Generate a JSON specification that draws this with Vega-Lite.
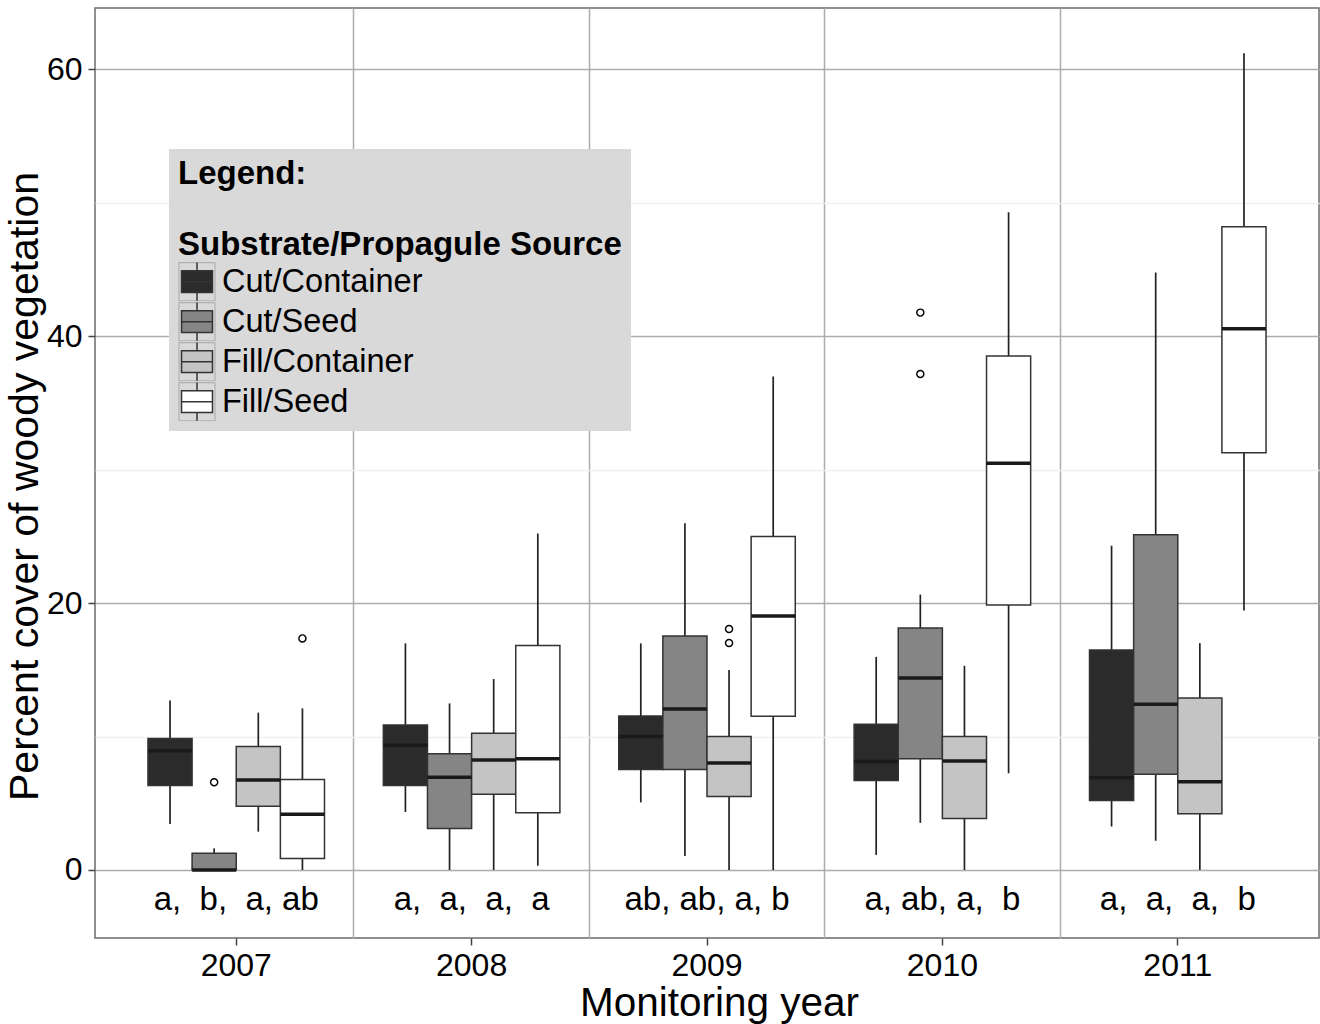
{
  "$schema": "https://vega.github.io/schema/vega-lite/v6.json",
  "autosize": "none",
  "width": 1224,
  "height": 930,
  "padding": {"left": 95, "top": 8, "right": 1, "bottom": 86},
  "background": "white",
  "config": {
    "font": "Liberation Sans",
    "view": {"stroke": "#6b6b6b", "strokeWidth": 1.5},
    "axis": {"zindex": 0}
  },
  "datasets": {
    "boxes": [
      {"year": "2007", "group": "Cut/Container", "lo": 3.45, "q1": 6.32, "med": 8.94, "q3": 9.86, "hi": 12.7},
      {"year": "2007", "group": "Cut/Seed", "lo": 0, "q1": 0, "med": 0, "q3": 1.25, "hi": 1.62},
      {"year": "2007", "group": "Fill/Container", "lo": 2.87, "q1": 4.77, "med": 6.74, "q3": 9.26, "hi": 11.79},
      {"year": "2007", "group": "Fill/Seed", "lo": 0, "q1": 0.85, "med": 4.17, "q3": 6.77, "hi": 12.11},
      {"year": "2008", "group": "Cut/Container", "lo": 4.34, "q1": 6.32, "med": 9.34, "q3": 10.86, "hi": 16.98},
      {"year": "2008", "group": "Cut/Seed", "lo": 0, "q1": 3.1, "med": 6.94, "q3": 8.71, "hi": 12.48},
      {"year": "2008", "group": "Fill/Container", "lo": 0, "q1": 5.67, "med": 8.24, "q3": 10.24, "hi": 14.31},
      {"year": "2008", "group": "Fill/Seed", "lo": 0.32, "q1": 4.29, "med": 8.34, "q3": 16.83, "hi": 25.22},
      {"year": "2009", "group": "Cut/Container", "lo": 5.06, "q1": 7.52, "med": 10.01, "q3": 11.54, "hi": 16.98},
      {"year": "2009", "group": "Cut/Seed", "lo": 1.05, "q1": 7.52, "med": 12.06, "q3": 17.54, "hi": 25.98},
      {"year": "2009", "group": "Fill/Container", "lo": 0, "q1": 5.5, "med": 8.02, "q3": 10.01, "hi": 14.99},
      {"year": "2009", "group": "Fill/Seed", "lo": 0, "q1": 11.51, "med": 19.03, "q3": 25.0, "hi": 36.98},
      {"year": "2010", "group": "Cut/Container", "lo": 1.13, "q1": 6.71, "med": 8.13, "q3": 10.92, "hi": 15.97},
      {"year": "2010", "group": "Cut/Seed", "lo": 3.53, "q1": 8.34, "med": 14.38, "q3": 18.13, "hi": 20.64},
      {"year": "2010", "group": "Fill/Container", "lo": 0, "q1": 3.85, "med": 8.16, "q3": 10.0, "hi": 15.3},
      {"year": "2010", "group": "Fill/Seed", "lo": 7.24, "q1": 19.86, "med": 30.49, "q3": 38.52, "hi": 49.29},
      {"year": "2011", "group": "Cut/Container", "lo": 3.26, "q1": 5.2, "med": 6.91, "q3": 16.49, "hi": 24.3},
      {"year": "2011", "group": "Cut/Seed", "lo": 2.19, "q1": 7.17, "med": 12.41, "q3": 25.12, "hi": 44.78},
      {"year": "2011", "group": "Fill/Container", "lo": 0, "q1": 4.21, "med": 6.61, "q3": 12.88, "hi": 17.0},
      {"year": "2011", "group": "Fill/Seed", "lo": 19.45, "q1": 31.26, "med": 40.57, "q3": 48.2, "hi": 61.2}
    ],
    "outliers": [
      {"year": "2007", "group": "Cut/Seed", "value": 6.57},
      {"year": "2007", "group": "Fill/Seed", "value": 17.35},
      {"year": "2009", "group": "Fill/Container", "value": 18.06},
      {"year": "2009", "group": "Fill/Container", "value": 17.01},
      {"year": "2010", "group": "Cut/Seed", "value": 41.77},
      {"year": "2010", "group": "Cut/Seed", "value": 37.17}
    ],
    "letters": [
      {"year": "2007", "label": "a,\u00a0 b,\u00a0 a, ab", "pos": -3},
      {"year": "2008", "label": "a,\u00a0 a,\u00a0 a,\u00a0 a", "pos": -3},
      {"year": "2009", "label": "ab, ab, a, b", "pos": -3},
      {"year": "2010", "label": "a, ab, a,\u00a0 b", "pos": -3},
      {"year": "2011", "label": "a,\u00a0 a,\u00a0 a,\u00a0 b", "pos": -3}
    ]
  },
  "resolve": {"axis": {"x": "independent", "y": "independent"}},
  "layer": [
    {
      "data": {"name": "boxes"},
      "mark": {"type": "rule", "color": "#222222", "strokeWidth": 1.7},
      "encoding": {
        "x": {
          "field": "year", "type": "nominal", "sort": ["2007", "2008", "2009", "2010", "2011"],
          "scale": {"paddingInner": 0, "paddingOuter": 0.1},
          "axis": {
            "orient": "bottom", "title": "Monitoring year", "titleFontSize": 40.5, "titleFontWeight": "normal",
            "titleColor": "#000000", "titlePadding": 2, "titleX": 624, "labelFontSize": 32, "labelColor": "#000000",
            "labelAngle": 0, "labelPadding": 5, "tickSize": 7, "tickColor": "#444444", "tickWidth": 1.5,
            "grid": false, "domain": false
          }
        },
        "xOffset": {"field": "group", "type": "nominal", "sort": ["Cut/Container", "Cut/Seed", "Fill/Container", "Fill/Seed"],
          "scale": {"paddingInner": 0, "paddingOuter": 0.6667}},
        "y": {
          "field": "lo", "type": "quantitative",
          "scale": {"domain": [-5.1, 64.6], "nice": false, "zero": false},
          "axis": {
            "orient": "left", "title": "Percent cover of woody vegetation", "titleFontSize": 41,
            "titleFontWeight": "normal", "titleColor": "#000000", "titlePadding": 0, "titleY": 478,
            "values": [0, 20, 40, 60], "labelFontSize": 32, "labelColor": "#000000", "labelPadding": 6,
            "tickSize": 7, "tickColor": "#444444", "tickWidth": 1.5,
            "grid": true, "gridColor": "#adadad", "gridWidth": 1.5, "domain": false
          }
        },
        "y2": {"field": "hi"}
      }
    },
    {
      "data": {"name": "boxes"},
      "mark": {"type": "point", "size": 0, "opacity": 1},
      "encoding": {
        "x": {"field": "year", "type": "nominal", "sort": ["2007", "2008", "2009", "2010", "2011"], "axis": null},
        "xOffset": {"field": "group", "type": "nominal", "sort": ["Cut/Container", "Cut/Seed", "Fill/Container", "Fill/Seed"]},
        "y": {"field": "med", "type": "quantitative", "axis": null},
        "strokeDash": {
          "field": "group", "type": "nominal", "sort": ["Cut/Container", "Cut/Seed", "Fill/Container", "Fill/Seed"],
          "scale": {"range": [[1, 0], [1, 0], [1, 0], [1, 0]]},
          "legend": {
            "orient": "none", "legendX": 74, "legendY": 141, "zindex": 0,
            "title": ["Legend:", "\u200b", "Substrate/Propagule Source"],
            "titleFontSize": 33, "titleFontWeight": "bold", "titleColor": "#000000", "titleLineHeight": 35.5,
            "titlePadding": 0, "titleLimit": 700, "fillColor": "#d9d9d9", "padding": 9,
            "labelFontSize": 32.5, "labelExpr": "''", "labelOffset": 6, "labelLimit": 500,
            "symbolType": "M-1,-1.06H1V1.06H-1Z", "symbolSize": 1296, "symbolStrokeColor": "#b0b0b0", "symbolFillColor": "#ffffff",
            "symbolStrokeWidth": 1.2, "symbolOpacity": 1, "symbolDash": [1, 0],
            "clipHeight": 39.3, "rowPadding": 0
          }
        }
      }
    },
    {
      "data": {"name": "boxes"},
      "mark": {"type": "bar", "stroke": "#333333", "strokeWidth": 1.5, "opacity": 1},
      "encoding": {
        "x": {
          "field": "year", "type": "nominal", "sort": ["2007", "2008", "2009", "2010", "2011"],
          "axis": {
            "orient": "top", "bandPosition": 0, "values": ["2008", "2009", "2010", "2011"],
            "grid": true, "gridColor": "#adadad", "gridWidth": 1.5, "labels": false, "ticks": false,
            "domain": false, "title": null
          }
        },
        "xOffset": {"field": "group", "type": "nominal", "sort": ["Cut/Container", "Cut/Seed", "Fill/Container", "Fill/Seed"]},
        "y": {
          "field": "q1", "type": "quantitative",
          "axis": {
            "orient": "right", "values": [10, 30, 50], "grid": true, "gridColor": "#f0f0f0", "gridWidth": 1.5,
            "labels": false, "ticks": false, "domain": false, "title": null
          }
        },
        "y2": {"field": "q3"},
        "fill": {
          "field": "group", "type": "nominal", "sort": ["Cut/Container", "Cut/Seed", "Fill/Container", "Fill/Seed"],
          "scale": {"domain": ["Cut/Container", "Cut/Seed", "Fill/Container", "Fill/Seed"], "range": ["#2b2b2b", "#858585", "#c4c4c4", "#ffffff"]},
          "legend": {
            "orient": "none", "legendX": 74, "legendY": 141, "zindex": 1,
            "title": ["\u200b", "\u200b", "\u200b"],
            "titleFontSize": 33, "titleFontWeight": "bold", "titleColor": "#000000", "titleLineHeight": 35.5,
            "titlePadding": 0, "titleLimit": 700, "padding": 9,
            "labelFontSize": 32.5, "labelColor": "#000000", "labelOffset": 6, "labelLimit": 500,
            "symbolType": "M-0.86,-0.6H0.86V0.6H-0.86Z M-0.86,0H0.86 M0,-0.6V-1.06 M0,0.6V1.06",
            "symbolSize": 1296, "symbolStrokeColor": "#333333", "symbolStrokeWidth": 1.5, "symbolOpacity": 1,
            "clipHeight": 39.3, "rowPadding": 0
          }
        }
      }
    },
    {
      "data": {"name": "boxes"},
      "mark": {"type": "tick", "color": "#1a1a1a", "thickness": 3.5, "size": 44, "opacity": 1},
      "encoding": {
        "x": {"field": "year", "type": "nominal", "sort": ["2007", "2008", "2009", "2010", "2011"], "axis": null},
        "xOffset": {"field": "group", "type": "nominal", "sort": ["Cut/Container", "Cut/Seed", "Fill/Container", "Fill/Seed"]},
        "y": {"field": "med", "type": "quantitative", "axis": null}
      }
    },
    {
      "data": {"name": "outliers"},
      "mark": {"type": "point", "shape": "circle", "size": 50, "stroke": "#000000", "strokeWidth": 1.4, "fill": "white", "filled": false, "opacity": 1},
      "encoding": {
        "x": {"field": "year", "type": "nominal", "sort": ["2007", "2008", "2009", "2010", "2011"], "axis": null},
        "xOffset": {"field": "group", "type": "nominal", "sort": ["Cut/Container", "Cut/Seed", "Fill/Container", "Fill/Seed"]},
        "y": {"field": "value", "type": "quantitative", "axis": null}
      }
    },
    {
      "data": {"name": "letters"},
      "mark": {"type": "text", "fontSize": 33, "color": "#000000", "baseline": "alphabetic", "align": "center"},
      "encoding": {
        "x": {"field": "year", "type": "nominal", "sort": ["2007", "2008", "2009", "2010", "2011"], "axis": null},
        "y": {"field": "pos", "type": "quantitative", "axis": null},
        "text": {"field": "label"}
      }
    }
  ]
}
